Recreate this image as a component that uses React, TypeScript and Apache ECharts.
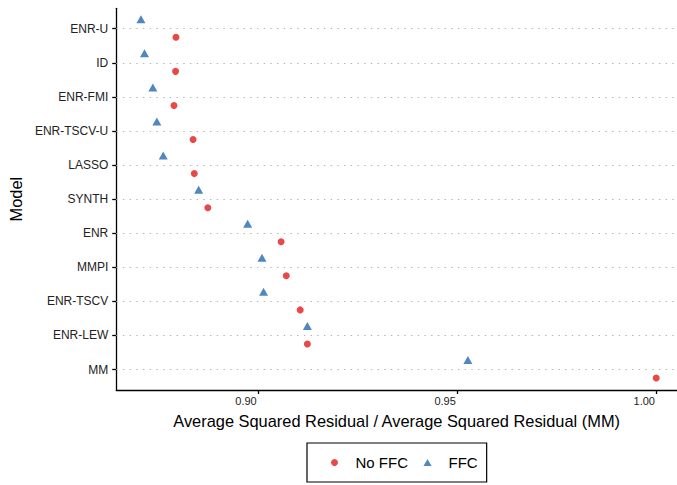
import React, { useEffect, useRef } from "react";
import * as echarts from "echarts";

// Models, top to bottom
const models = [
  "ENR-U",
  "ID",
  "ENR-FMI",
  "ENR-TSCV-U",
  "LASSO",
  "SYNTH",
  "ENR",
  "MMPI",
  "ENR-TSCV",
  "ENR-LEW",
  "MM",
];

// Relative average squared residual (MM = 1)
const noFfc = [0.8794, 0.8793, 0.8789, 0.8837, 0.884, 0.8874, 0.9058, 0.9071, 0.9106, 0.9124, 1.0];
const ffc = [0.8706, 0.8715, 0.8736, 0.8746, 0.8762, 0.8851, 0.8974, 0.901, 0.9014, 0.9124, 0.9527];

const xTicks = [0.9, 0.95, 1.0];
const dodge = 0.25;

const FONT = "Liberation Sans, Arial, Helvetica, sans-serif";
const RED = "#E41A1C";
const BLUE = "#2468B2";

export default function App() {
  const ref = useRef<HTMLDivElement>(null);

  useEffect(() => {
    if (!ref.current) return;
    const chart = echarts.init(ref.current, undefined, { renderer: "svg" });
    const rowIdx = models.map((_, i) => i);

    chart.setOption({
      animation: false,
      backgroundColor: "#ffffff",
      textStyle: { fontFamily: FONT },
      grid: { left: 111, top: 8.3, width: 566, height: 381.7, containLabel: false },
      xAxis: {
        type: "value",
        min: 0.8644,
        max: 1.00522,
        name: "Average Squared Residual / Average Squared Residual (MM)",
        nameLocation: "middle",
        nameGap: 23,
        nameTextStyle: { fontSize: 16.4, color: "#000", fontFamily: FONT },
        axisLine: { show: true, onZero: false, lineStyle: { color: "#000", width: 1.3 } },
        axisTick: { show: true, length: 4, customValues: xTicks, lineStyle: { color: "#000", width: 1.3 } },
        axisLabel: {
          customValues: xTicks,
          formatter: (v: number) => v.toFixed(2),
          fontSize: 11,
          color: "#222",
          margin: 5,
          padding: [0, 24, 0, 0],
          fontFamily: FONT,
        },
        splitLine: { show: false },
      },
      yAxis: {
        type: "value",
        inverse: true,
        min: -0.6,
        max: 10.6,
        name: "Model",
        nameLocation: "middle",
        nameRotate: 90,
        nameGap: 90,
        nameTextStyle: { fontSize: 16.4, color: "#000", fontFamily: FONT },
        axisLine: { show: true, onZero: false, lineStyle: { color: "#000", width: 1.3 } },
        axisTick: { show: true, length: 4, customValues: rowIdx, lineStyle: { color: "#000", width: 1.3 } },
        axisLabel: {
          customValues: rowIdx,
          formatter: (v: number) => models[Math.round(v)] ?? "",
          fontSize: 12,
          color: "#222",
          margin: 8,
          fontFamily: FONT,
        },
        splitLine: { show: false },
      },
      legend: {
        left: 307,
        top: 443,
        orient: "horizontal",
        padding: [12, 9, 12, 24],
        itemGap: 15.5,
        itemWidth: 8,
        itemHeight: 7,
        borderColor: "#000",
        borderWidth: 1.2,
        textStyle: { fontSize: 15, color: "#000", fontFamily: FONT, padding: [0, 0, 0, 12] },
        data: [
          { name: "No FFC", icon: "circle" },
          { name: "FFC", icon: "triangle" },
        ],
      },
      series: [
        {
          name: "No FFC",
          type: "scatter",
          symbol: "circle",
          symbolSize: 7,
          itemStyle: { color: RED },
          data: noFfc.map((v, i) => [v, i + dodge]),
          z: 3,
          markLine: {
            silent: true,
            symbol: "none",
            label: { show: false },
            lineStyle: { color: "#b3b3b3", type: [1.4, 5.3], width: 1.2 },
            data: rowIdx.map((i) => ({ yAxis: i })),
            z: 1,
          },
        },
        {
          name: "FFC",
          type: "scatter",
          symbol: "triangle",
          symbolSize: [9, 8],
          symbolOffset: [0, -1],
          itemStyle: { color: BLUE },
          data: ffc.map((v, i) => [v, i - dodge]),
          z: 3,
        },
      ],
    });

    return () => chart.dispose();
  }, []);

  return (
    <div
      ref={ref}
      style={{ position: "fixed", left: 0, top: 0, width: 677, height: 485, background: "#fff" }}
    />
  );
}
